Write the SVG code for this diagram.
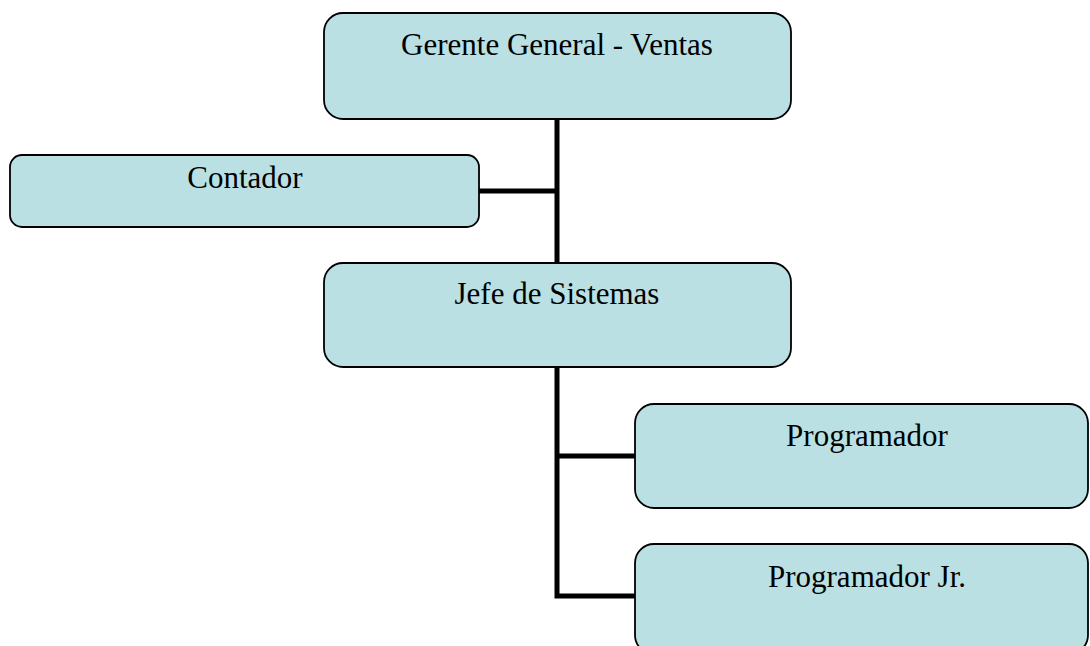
<svg xmlns="http://www.w3.org/2000/svg" width="1090" height="646" viewBox="0 0 1090 646">
<style>
.box{fill:#bae0e3;stroke:#000;stroke-width:1.8}
.lbl{font-family:"Liberation Serif","Times New Roman",serif;font-size:31px;fill:#000;text-anchor:middle}
.conn{fill:none;stroke:#000;stroke-width:5;stroke-linejoin:miter;stroke-linecap:butt}
</style>
<rect width="1090" height="646" fill="#fff"/>
<g id="connectors">
<path class="conn" d="M557,119 V263"/>
<path class="conn" d="M479,191 H557"/>
<path class="conn" d="M557,367 V596 H635"/>
<path class="conn" d="M557,456 H635"/>
</g>
<g id="gerente">
<rect class="box" x="324" y="13" width="467" height="106" rx="19" ry="19"/>
<text class="lbl" x="557" y="55">Gerente General - Ventas</text>
</g>
<g id="contador">
<rect class="box" x="10" y="155" width="469" height="72" rx="12" ry="12"/>
<text class="lbl" x="245" y="188">Contador</text>
</g>
<g id="jefe">
<rect class="box" x="324" y="263" width="467" height="104" rx="19" ry="19"/>
<text class="lbl" x="557" y="304">Jefe de Sistemas</text>
</g>
<g id="programador">
<rect class="box" x="635" y="404" width="453" height="104" rx="19" ry="19"/>
<text class="lbl" x="867" y="446">Programador</text>
</g>
<g id="programador-jr">
<rect class="box" x="635" y="544" width="453" height="110" rx="19" ry="19"/>
<text class="lbl" x="867" y="587">Programador Jr.</text>
</g>
</svg>
